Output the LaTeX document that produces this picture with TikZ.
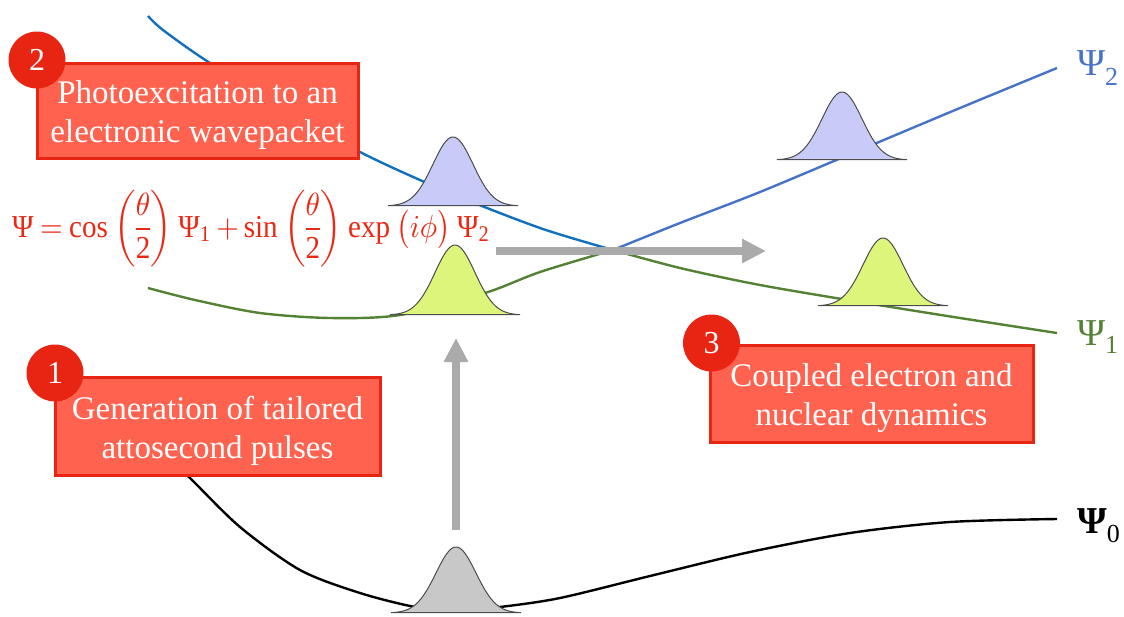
\documentclass[tikz,border=0pt]{standalone}
\usepackage{graphicx}
\usepackage{fontspec}
\setmainfont{Liberation Serif}
\newfontfamily\tnr{Liberation Serif}
\usetikzlibrary{arrows.meta}
\definecolor{bluedark}{RGB}{16,112,190}
\definecolor{bluelight}{RGB}{70,115,200}
\definecolor{greenc}{RGB}{84,130,53}
\definecolor{redfill}{RGB}{255,99,80}
\definecolor{redline}{RGB}{232,36,18}
\definecolor{eqred}{RGB}{235,40,20}
\definecolor{lav}{RGB}{200,203,247}
\definecolor{lime}{RGB}{220,245,122}
\definecolor{grayg}{RGB}{200,200,200}
\definecolor{arrowgray}{RGB}{170,170,170}
\newcommand\wavepk[4]{%
  \filldraw[fill=#4, draw=black!70, line width=1pt]
    plot[domain=-65:65,samples=80,smooth] ({#1+\x},{#2-#3*exp(-(\x/20)^2/2)}) -- cycle;}
\newcommand\tm[1]{\mbox{\tnr #1}}
\newcommand\tsub[1]{_{\mbox{\tnr\fontsize{7}{7}\selectfont #1}}}
\newcommand\gp{\mskip4mu}
\begin{document}
\begin{tikzpicture}[x=1pt,y=-1pt,
  curve/.style={line width=2.4pt},
  bigarrow/.style={draw=arrowgray, line width=8pt, -{Triangle[length=24pt,width=23pt]}},
  infobox/.style={rectangle, draw=redline, line width=3pt, fill=redfill, inner sep=0pt},
  infotext/.style={text=white, align=center, inner sep=0pt, font=\tnr\fontsize{33}{39}\selectfont},
  numdot/.style={circle, fill=redline, text=white, minimum size=57pt, inner sep=0pt,
    font=\tnr\fontsize{32}{32}\selectfont},
  psilab/.style={anchor=base west, inner sep=0pt, font=\tnr\fontsize{38}{38}\selectfont}]
\useasboundingbox (0,0) rectangle (1124,616);

% potential curves
\draw[curve, bluedark] plot[smooth] coordinates {(148,16) (163,30) (210,63) (290,110) (360,152) (450,193) (540,228) (613,250)};
\draw[curve, greenc] plot[smooth] coordinates {(613,250) (680,268) (760,285) (860,302) (960,318) (1057,333)};
\draw[curve, greenc] plot[smooth] coordinates {(148,288) (195,300) (260,313) (330,318) (400,315) (485,293) (540,272) (613,250)};
\draw[curve, bluelight] plot[smooth] coordinates {(613,250) (680,223) (760,192) (860,150) (960,108) (1057,68)};
\draw[curve, black] plot[smooth] coordinates {(175,465) (190,478) (240,527) (300,570) (360,593) (415,607) (455,611) (500,607) (560,598) (650,576) (750,552) (850,533) (950,522) (1057,519)};

% wavepackets
\wavepk{456}{613}{66}{grayg}
\wavepk{453}{206}{69}{lav}
\wavepk{455}{315}{70}{lime}
\wavepk{842}{160}{68}{lav}
\wavepk{883}{306}{68}{lime}

% arrows
\coordinate (v0) at (456,530);
\coordinate (v1) at (456,338);
\coordinate (h0) at (496,251);
\coordinate (h1) at (766,251);
\draw[bigarrow] (v0) -- (v1);
\draw[bigarrow] (h0) -- (h1);

% equation
\node[anchor=base west, inner sep=0pt, text=eqred] (eq) at (12,237)
  {\thinmuskip=2mu \medmuskip=3mu plus 1mu \thickmuskip=4mu plus 1mu \nulldelimiterspace=0pt
   \scalebox{1}[1.1]{\resizebox{478pt}{!}{$\displaystyle \tm{Ψ} = \tm{cos}\gp\biggl(\frac{\theta}{\tm{2}}\biggr)\gp\tm{Ψ}\tsub{1} + \tm{sin}\gp\biggl(\frac{\theta}{\tm{2}}\biggr)\gp\tm{exp}\gp\bigl(i\phi\bigr)\gp\tm{Ψ}\tsub{2}$}}};

% boxes
\node[infobox, minimum width=321pt, minimum height=95pt] (b2) at (197.5,110.5) {};
\node[infotext] (t2) at ([yshift=-5pt]b2.center) {Photoexcitation to an\\electronic wavepacket};
\node[numdot] (n2) at (37,60) {2};
\node[infobox, minimum width=325pt, minimum height=98pt] (b1) at (217.5,426) {};
\node[infotext] (t1) at ([yshift=-5pt]b1.center) {Generation of tailored\\attosecond pulses};
\node[numdot] (n1) at (55,373) {1};
\node[infobox, minimum width=323pt, minimum height=97pt] (b3) at (871.5,393.5) {};
\node[infotext] (t3) at ([yshift=-5pt]b3.center) {Coupled electron and\\nuclear dynamics};
\node[numdot] (n3) at (711.5,343) {3};

% state labels
\node[psilab, text=bluelight] (p2) at (1077,75) {Ψ\raisebox{-10pt}{\fontsize{26}{26}\selectfont 2}};
\node[psilab, text=greenc] (p1) at (1077,345) {Ψ\raisebox{-8pt}{\fontsize{26}{26}\selectfont 1}};
\node[psilab, text=black] (p0) at (1077,533) {\bfseries Ψ\raisebox{-9pt}{\fontsize{26}{26}\selectfont\mdseries 0}};
\end{tikzpicture}
\end{document}
